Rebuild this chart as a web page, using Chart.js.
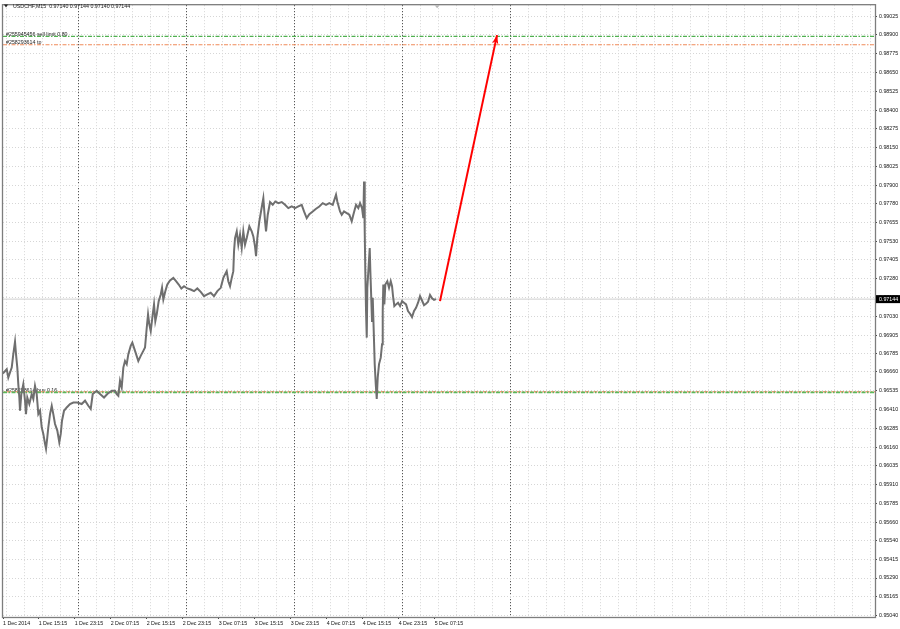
<!DOCTYPE html>
<html>
<head>
<meta charset="utf-8">
<script src="https://cdn.jsdelivr.net/npm/chart.js@4.4.1/dist/chart.umd.min.js"></script>
<style>
  html, body { margin: 0; padding: 0; background: #fff; }
  canvas { display: block; }
</style>
</head>
<body>
<canvas id="chart" width="900" height="629"></canvas>
<script>
// USDCHF M15, 1-5 Dec 2014. x values are hours since 1 Dec 2014 00:00

const symbolTitle = 'USDCHF,M15  0.97140 0.97144 0.97140 0.97144';

const hours = [
  // 1 Dec
  7.27, 7.71, 8.16, 8.51, 8.89, 9.27, 9.62, 10.0, 10.22, 10.51, 10.73, 10.96, 11.11, 11.4, 11.84,
  12.22, 12.44, 12.73, 13.18, 13.71, 14.07, 14.44, 14.82, 15.18, 15.56, 15.93, 16.29, 16.67, 16.89,
  17.18, 17.4, 17.78, 18.16, 18.51, 18.89, 19.4, 19.84, 20.16, 20.44, 20.89, 21.49, 22.22, 22.96, 23.84,
  // 2 Dec
  24.82, 25.56, 26.29, 26.82, 27.27, 28.16, 28.89, 29.78, 30.51, 31.49, 32.22,
  32.6, 32.96, 33.33, 33.71, 34.07, 34.44, 34.82, 35.18, 35.71, 36.07, 36.67, 37.4, 37.93, 38.51, 38.89,
  39.27, 39.56, 39.84, 40.16, 40.6, 40.89, 41.18, 41.49, 41.93, 42.38, 42.67, 42.96, 43.4, 43.84, 44.44,
  45.18, 45.78, 46.38, 46.96, 47.56,
  // 3 Dec
  48.29, 49.04, 49.78, 50.51, 51.27, 52, 52.73, 53.49, 54.22, 54.96, 55.71,
  56.29, 57.04, 57.4, 57.78, 58.16, 58.51, 58.67, 58.89, 59.27, 59.62, 60, 60.38, 60.73, 61.11, 61.49,
  62.07, 62.6, 62.96, 63.33, 63.56, 63.84, 64.29, 64.73, 65.18, 65.56, 65.78, 66.16, 66.67, 67.27, 67.84,
  68.51, 69.27, 70, 70.73, 71.49,
  // 4 Dec
  72.22, 72.96, 73.71, 74.22, 74.82, 75.4, 76.16, 76.89, 77.62, 78.38, 79.11, 79.84, 80.6, 81.33,
  81.62, 82.22, 82.6, 83.11, 83.71, 84.29, 84.82, 85.18, 85.78, 86.29, 86.67, 87.11, 87.4, 87.56, 87.71,
  87.84, 88, 88.16, 88.29, 88.6, 88.82, 88.96, 89.11, 89.33, 89.49, 89.71, 89.93, 90.16, 90.38, 90.6,
  90.89, 91.27, 91.56, 91.71, 91.84, 92.07, 92.29, 92.73, 93.11, 93.49, 93.78, 94, 94.29, 94.67, 95.11,
  95.56,
  // 5 Dec
  96, 96.44, 96.89, 97.33, 97.78, 98.22, 98.67, 99.11, 99.56, 100, 100.44, 100.89, 101.33, 101.78,
  102.22, 102.67, 103.11, 103.56
];

const closes = [
  0.96649, 0.96663, 0.96678, 0.96623, 0.96656, 0.96689, 0.96778, 0.96861, 0.96778, 0.96689, 0.96579, 0.96490, 0.96402, 0.96513, 0.96579,
  0.96469, 0.96380, 0.96490, 0.96447, 0.96513, 0.96480, 0.96568, 0.96513, 0.96380, 0.96402, 0.96292, 0.96248, 0.96182, 0.96149,
  0.96226, 0.96292, 0.96380, 0.96435, 0.96380, 0.96314, 0.96270, 0.96192, 0.96248, 0.96336, 0.96402, 0.96424, 0.96447, 0.96457, 0.96457,
  0.96447, 0.96469, 0.96435, 0.96414, 0.96513, 0.96535, 0.96513, 0.96490, 0.96513, 0.96535, 0.96535,
  0.96513, 0.96502, 0.96601, 0.96557, 0.96689, 0.96733, 0.96712, 0.96778, 0.96833, 0.96855, 0.96800, 0.96733, 0.96767, 0.96800, 0.96822,
  0.96954, 0.97043, 0.96977, 0.96932, 0.97043, 0.97109, 0.96998, 0.97043, 0.97131, 0.97175, 0.97219, 0.97142, 0.97197, 0.97241, 0.97268,
  0.97285, 0.97263, 0.97241, 0.97215, 0.97230,
  0.97215, 0.97208, 0.97197, 0.97215, 0.97192, 0.97164, 0.97175, 0.97186, 0.97164, 0.97197, 0.97219,
  0.97285, 0.97330, 0.97263, 0.97230, 0.97285, 0.97330, 0.97462, 0.97550, 0.97594, 0.97506, 0.97573, 0.97484, 0.97594, 0.97506, 0.97550,
  0.97628, 0.97594, 0.97561, 0.97495, 0.97429, 0.97550, 0.97661, 0.97738, 0.97815, 0.97661, 0.97594, 0.97705, 0.97789, 0.97771, 0.97793,
  0.97782, 0.97789, 0.97771, 0.97749, 0.97760,
  0.97749, 0.97760, 0.97771, 0.97727, 0.97683, 0.97709, 0.97727, 0.97745, 0.97760, 0.97782, 0.97771, 0.97782, 0.97771, 0.97838,
  0.97793, 0.97727, 0.97705, 0.97727, 0.97716, 0.97705, 0.97661, 0.97705, 0.97771, 0.97749, 0.97782, 0.97749, 0.97683, 0.97926, 0.97594,
  0.97330, 0.97065, 0.96888, 0.97219, 0.97374, 0.97484, 0.97330, 0.97197, 0.96998, 0.97153, 0.96932, 0.96712, 0.96579, 0.96480, 0.96623,
  0.96712, 0.96755, 0.96844, 0.97065, 0.97241, 0.97109, 0.97241, 0.97263, 0.97219, 0.97263, 0.97230, 0.97164, 0.97098, 0.97109, 0.97120,
  0.97098,
  0.97131, 0.97120, 0.97109, 0.97065, 0.97047, 0.97025, 0.97065, 0.97086, 0.97120, 0.97164, 0.97135, 0.97104, 0.97113, 0.97126,
  0.97171, 0.97149, 0.97139, 0.97144
];

const lastPrice = 0.97144;

// time axis
const xMin = 7.33, xMax = 201.1;
const xTickHours = [7.33, 15.25, 23.25, 31.25, 39.25, 47.25, 55.25, 63.25, 71.25, 79.25, 87.25, 95.25, 103.25];
const xTickLabels = ['1 Dec 2014', '1 Dec 15:15', '1 Dec 23:15', '2 Dec 07:15', '2 Dec 15:15', '2 Dec 23:15',
  '3 Dec 07:15', '3 Dec 15:15', '3 Dec 23:15', '4 Dec 07:15', '4 Dec 15:15', '4 Dec 23:15', '5 Dec 07:15'];
const daySeparators = [24, 48, 72, 96, 120];
const gridStepHours = 4;

// price axis
const yMin = 0.95031, yMax = 0.99098;
const yTicks = [0.99025, 0.98900, 0.98775, 0.98650, 0.98525, 0.98400, 0.98275, 0.98150, 0.98025, 0.97900,
  0.97780, 0.97655, 0.97530, 0.97405, 0.97280, 0.97155, 0.97030, 0.96905, 0.96785, 0.96660, 0.96535,
  0.96410, 0.96285, 0.96160, 0.96035, 0.95910, 0.95785, 0.95660, 0.95540, 0.95415, 0.95290, 0.95165, 0.95040];

// order lines
const orderLevels = [0.98890, 0.98835, 0.96524, 0.96528];
const orderColors = ['#4fb04f', '#f08a5a', '#5cb85c', '#f59a76'];
const orderLabels = ['#255945456 sell limit 0.80', '#258293614 tp', '#258293614 buy 0.16', ''];

// forecast arrow
const arrowHours = [104.44, 117.11];
const arrowPrices = [0.97131, 0.98899];

const FONT = "'Liberation Sans', Arial, sans-serif";
Chart.defaults.font.family = FONT;
Chart.defaults.font.size = 5.3;
Chart.defaults.color = '#111';

const flat = (v) => [{ x: xMin, y: v }, { x: xMax, y: v }];

const datasets = [
  {
    data: hours.map((h, i) => ({ x: h, y: closes[i] })),
    borderColor: '#6f6f6f', borderWidth: 2, order: 1
  },
  {
    data: arrowHours.map((h, i) => ({ x: h, y: arrowPrices[i] })),
    borderColor: '#ff0000', borderWidth: 2, order: 0
  },
  {
    data: flat(lastPrice), borderColor: '#cfcfcf', borderWidth: 1, order: 5
  }
];
orderLevels.forEach((lv, i) => {
  datasets.push({
    data: flat(lv), borderColor: orderColors[i], borderWidth: i < 2 ? 1.2 : 1.6,
    borderDash: [4, 1.5, 1.5, 1.5], borderDashOffset: i === 3 ? 4.5 : 0,
    order: 3
  });
});

const overlay = {
  id: 'overlay',
  beforeDatasetsDraw(chart) {
    const { ctx, scales: { y } } = chart;
    ctx.save();
    ctx.font = '5.3px ' + FONT;
    ctx.fillStyle = '#222';
    ctx.textBaseline = 'bottom';
    orderLabels.forEach((t, i) => {
      if (!t) return;
      ctx.fillText(t, 6, y.getPixelForValue(orderLevels[i]) + 0.5);
    });
    ctx.restore();
  },
  afterDatasetsDraw(chart) {
    // arrow head at the end of the red line
    const { ctx, scales: { x, y } } = chart;
    const sx = x.getPixelForValue(arrowHours[0]), sy = y.getPixelForValue(arrowPrices[0]);
    const ex = x.getPixelForValue(arrowHours[1]), ey = y.getPixelForValue(arrowPrices[1]);
    const a = Math.atan2(ey - sy, ex - sx);
    const len = 9, half = 3.2;
    ctx.save();
    ctx.fillStyle = '#ff0000';
    ctx.beginPath();
    ctx.moveTo(ex, ey);
    ctx.lineTo(ex - len * Math.cos(a) + half * Math.sin(a), ey - len * Math.sin(a) - half * Math.cos(a));
    ctx.lineTo(ex - len * 0.7 * Math.cos(a), ey - len * 0.7 * Math.sin(a));
    ctx.lineTo(ex - len * Math.cos(a) - half * Math.sin(a), ey - len * Math.sin(a) + half * Math.cos(a));
    ctx.closePath();
    ctx.fill();
    ctx.restore();
  },
  afterDraw(chart) {
    const { ctx, chartArea: a, scales: { x, y } } = chart;
    ctx.save();
    // frame
    ctx.strokeStyle = '#7d7d7d';
    ctx.lineWidth = 1.3;
    ctx.strokeRect(a.left - 0.5, a.top - 0.5, a.right - a.left + 1, a.bottom - a.top + 1);

    // title
    ctx.fillStyle = '#222';
    ctx.beginPath();
    ctx.moveTo(4, 4.5); ctx.lineTo(8, 4.5); ctx.lineTo(6, 7.5); ctx.closePath();
    ctx.fill();
    ctx.font = '5.3px ' + FONT;
    ctx.textBaseline = 'middle';
    ctx.fillText(symbolTitle, 13, 6.5);

    // shift marker at the top
    const mx = x.getPixelForValue(103.8);
    ctx.fillStyle = '#b8b8b8';
    ctx.beginPath();
    ctx.moveTo(mx - 2.5, a.top); ctx.lineTo(mx + 2.5, a.top); ctx.lineTo(mx, a.top + 3); ctx.closePath();
    ctx.fill();

    // current price box
    const py = y.getPixelForValue(lastPrice);
    ctx.fillStyle = '#000';
    ctx.fillRect(a.right + 1, py - 4, 900 - a.right - 1, 8);
    ctx.fillStyle = '#fff';
    ctx.textBaseline = 'middle';
    ctx.fillText(lastPrice.toFixed(5), a.right + 4, py + 0.3);
    ctx.restore();
  }
};

const gridX = (values, color) => ({
  type: 'linear', position: 'bottom', min: xMin, max: xMax, bounds: 'data',
  afterBuildTicks: s => { s.ticks = values().map(v => ({ value: v })); },
  afterFit: s => { s.height = 0; },
  ticks: { display: false },
  grid: { color: color, lineWidth: 1, drawTicks: false },
  border: { display: false, dash: [1, 2] }
});

new Chart(document.getElementById('chart'), {
  type: 'line',
  data: { datasets },
  options: {
    responsive: false,
    animation: false,
    devicePixelRatio: 1,
    layout: { padding: { left: 3, top: 3, right: 0, bottom: 0 } },
    elements: { point: { radius: 0 }, line: { tension: 0 } },
    plugins: { legend: { display: false }, tooltip: { enabled: false } },
    scales: {
      xGrid: gridX(() => {
        const out = [];
        for (let v = daySeparators[0] - gridStepHours * 4; v < xMax; v += gridStepHours) if (v > xMin) out.push(v);
        return out;
      }, '#d6d6d6'),
      xDay: gridX(() => daySeparators, '#3c3c3c'),
      x: {
        type: 'linear', position: 'bottom', min: xMin, max: xMax, bounds: 'data',
        afterBuildTicks: s => { s.ticks = xTickHours.map(v => ({ value: v })); },
        afterFit: s => { s.height = 12; },
        ticks: {
          autoSkip: false, maxRotation: 0, minRotation: 0, align: 'start', padding: 1,
          callback: (v, i) => xTickLabels[i]
        },
        grid: { drawOnChartArea: false, drawTicks: true, tickLength: 2, tickColor: '#444' },
        border: { display: false }
      },
      y: {
        type: 'linear', position: 'right', min: yMin, max: yMax, bounds: 'data',
        afterBuildTicks: s => { s.ticks = yTicks.map(v => ({ value: v })); },
        afterFit: s => { s.width = 25; },
        ticks: { autoSkip: false, padding: 2, callback: v => v.toFixed(5) },
        grid: { color: '#d6d6d6', lineWidth: 1, drawTicks: true, tickLength: 2, tickColor: '#444', tickBorderDash: [] },
        border: { display: false, dash: [1, 2] }
      }
    }
  },
  plugins: [overlay]
});
</script>
</body>
</html>
